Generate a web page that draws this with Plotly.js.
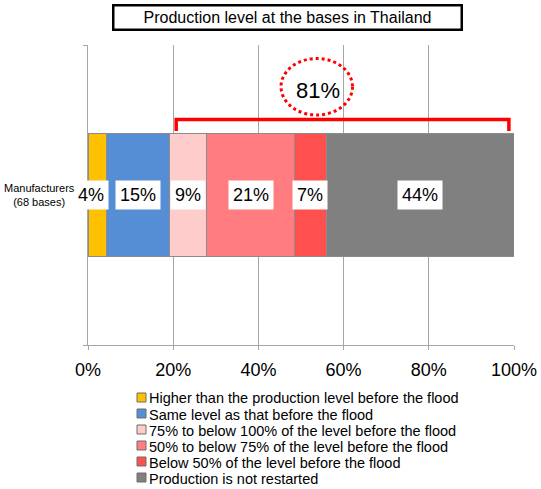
<!DOCTYPE html>
<html>
<head>
<meta charset="utf-8">
<script src="https://cdn.plot.ly/plotly-3.0.1.min.js"></script>
<style>
  html, body { margin: 0; padding: 0; background: #ffffff; }
  #chart { width: 541px; height: 489px; }
</style>
</head>
<body>
<div id="chart"></div>
<script>
// ---- data ----
const chartTitle = 'Production level at the bases in Thailand';
const categories = ['Manufacturers<br>(68 bases)'];
const seriesNames = [
  'Higher than the production level before the flood',
  'Same level as that before the flood',
  '75% to below 100% of the level before the flood',
  '50% to below 75% of the level before the flood',
  'Below 50% of the level before the flood',
  'Production is not restarted'
];
const seriesValues = [4.4, 14.7, 8.8, 20.6, 7.4, 44.1];
const seriesColors = ['#FFC000', '#558ED5', '#FFCCCC', '#FF7C80', '#FF5050', '#808080'];
const xTickVals = [0, 20, 40, 60, 80, 100];
const xTickText = ['0%', '20%', '40%', '60%', '80%', '100%'];
const bracketFrom = 20.7;
const bracketTo = 98.8;
const bracketText = '81%';

// ---- layout geometry (pixels of the 541x489 page) ----
const M = {l: 88, r: 27, t: 45, b: 144};
const W = 541, H = 489;
const plotW = W - M.l - M.r, plotH = H - M.t - M.b;
const px2paperX = px => (px - M.l) / plotW;
const py2paperY = py => (H - M.b - py) / plotH;

const FONT = 'Arial, "Liberation Sans", sans-serif';

const traces = seriesValues.map((v, i) => ({
  type: 'bar',
  orientation: 'h',
  name: seriesNames[i],
  x: [v],
  y: categories,
  width: 0.41,
  marker: {color: seriesColors[i], line: {color: '#8C8C8C', width: 1}},
  hovertemplate: seriesNames[i] + ': %{x}%<extra></extra>',
  showlegend: false
}));

const annotations = [];
const shapes = [];

// bar value labels
let cum = 0;
seriesValues.forEach((v, i) => {
  const mid = cum + v / 2;
  cum += v;
  annotations.push({
    x: mid, y: categories[0], xref: 'x', yref: 'y',
    text: Math.round(v) + '%',
    showarrow: false,
    bgcolor: '#ffffff',
    borderpad: 4,
    xshift: i === 0 ? -6 : 0,
    font: {family: FONT, size: 18, color: '#000000'}
  });
});

// category label (centered two-line)
annotations.push({
  x: px2paperX(77), y: 0.5, xref: 'paper', yref: 'paper',
  xanchor: 'right', yanchor: 'middle', align: 'center',
  text: categories[0], showarrow: false,
  font: {family: FONT, size: 11, color: '#000000'}
});

// title in box
annotations.push({
  x: px2paperX(287.7), y: py2paperY(17), xref: 'paper', yref: 'paper',
  xanchor: 'center', yanchor: 'middle',
  text: chartTitle, showarrow: false,
  width: 344, height: 20, borderpad: 1,
  bordercolor: '#000000', borderwidth: 2.5, bgcolor: '#ffffff',
  font: {family: FONT, size: 16, color: '#000000'}
});

// bracket
const yTop = py2paperY(119.5), yLeg = py2paperY(131);
shapes.push({
  type: 'path', xref: 'x', yref: 'paper',
  path: `M ${bracketFrom},${yLeg} L ${bracketFrom},${yTop} L ${bracketTo},${yTop} L ${bracketTo},${yLeg}`,
  line: {color: '#FF0000', width: 3.5}
});

// dotted ellipse + 81%
shapes.push({
  type: 'circle', xref: 'paper', yref: 'paper',
  x0: px2paperX(281), x1: px2paperX(352.5),
  y0: py2paperY(115), y1: py2paperY(58.5),
  line: {color: '#FF0000', width: 3, dash: 'dot'}
});
annotations.push({
  x: px2paperX(318), y: py2paperY(90), xref: 'paper', yref: 'paper',
  xanchor: 'center', yanchor: 'middle',
  text: bracketText, showarrow: false,
  font: {family: FONT, size: 22, color: '#000000'}
});

// manual legend (compact rows)
seriesNames.forEach((name, i) => {
  const cy = 397.5 + i * 16;
  shapes.push({
    type: 'rect', xref: 'paper', yref: 'paper',
    x0: px2paperX(137), x1: px2paperX(146),
    y0: py2paperY(cy + 4.5), y1: py2paperY(cy - 4.5),
    fillcolor: seriesColors[i],
    line: {color: '#6E6E6E', width: 1}
  });
  annotations.push({
    x: px2paperX(147.5), y: py2paperY(cy + 1), xref: 'paper', yref: 'paper',
    xanchor: 'left', yanchor: 'middle',
    text: name, showarrow: false, borderpad: 0,
    font: {family: FONT, size: 14.5, color: '#000000'}
  });
});

const layout = {
  width: W, height: H,
  margin: M,
  paper_bgcolor: '#ffffff', plot_bgcolor: '#ffffff',
  barmode: 'stack',
  bargap: 0,
  showlegend: false,
  font: {family: FONT, color: '#000000'},
  xaxis: {
    range: [0, 100], tickvals: xTickVals, ticktext: xTickText,
    showgrid: true, gridcolor: '#A6A6A6', gridwidth: 1,
    showline: true, linecolor: '#A6A6A6', linewidth: 1,
    ticks: 'outside', ticklen: 4, tickcolor: '#A6A6A6',
    ticklabelstandoff: 4,
    zeroline: false, fixedrange: true,
    tickfont: {family: FONT, size: 18, color: '#000000'}
  },
  yaxis: {
    type: 'category', range: [-0.5, 0.5],
    showticklabels: false, showgrid: false,
    showline: true, linecolor: '#A6A6A6', linewidth: 1,
    ticks: 'outside', tickson: 'boundaries', ticklen: 4, tickcolor: '#A6A6A6',
    zeroline: false, fixedrange: true
  },
  annotations: annotations,
  shapes: shapes
};

Plotly.newPlot('chart', traces, layout, {displayModeBar: false, staticPlot: true});
</script>
</body>
</html>
